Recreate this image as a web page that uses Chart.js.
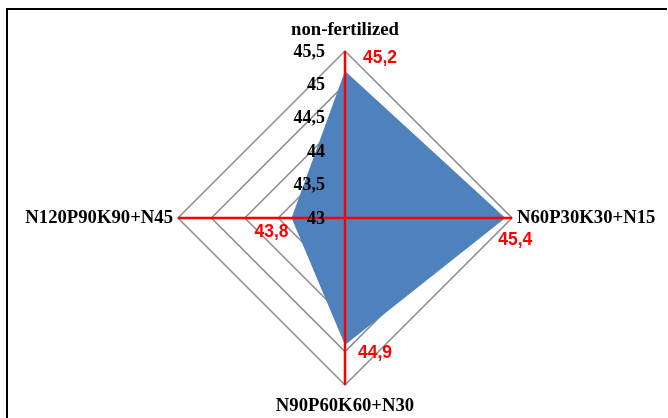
<!DOCTYPE html>
<html>
<head>
<meta charset="utf-8">
<script src="https://cdn.jsdelivr.net/npm/chart.js@4/dist/chart.umd.min.js"></script>
<style>
  html, body { margin: 0; padding: 0; background: #fff; overflow: hidden; }
  #wrap { position: relative; width: 668px; height: 418px; }
  #frame { position: absolute; left: 6px; top: 8px; width: 661px; height: 420px;
           border-top: 2px solid #000; border-left: 2px solid #000; box-sizing: border-box; }
  canvas { position: absolute; left: 0; top: 0; }
</style>
</head>
<body>
<div id="wrap">
  <div id="frame"></div>
  <canvas id="c" width="668" height="418"></canvas>
</div>
<script>
// Treatments (clockwise from the top) and their values
const categories = ['non-fertilized', 'N60P30K30+N15', 'N90P60K60+N30', 'N120P90K90+N45'];
const values = [45.2, 45.4, 44.9, 43.8];

// Radial axis
const tickValues = [43, 43.5, 44, 44.5, 45, 45.5];
const tickLabels = ['43', '43,5', '44', '44,5', '45', '45,5'];

// Offsets of the red value labels from their points (x, y)
const valueLabelOffsets = [[35, -13], [10, 22], [30, 8], [-20, 14]];

const tickFont = 'bold 18px "Liberation Serif", "Times New Roman", serif';
const categoryFont = 'bold 18.7px "Liberation Serif", "Times New Roman", serif';
const valueFont = 'bold 17.5px "Liberation Sans", Arial, sans-serif';

const overlay = {
  id: 'overlay',
  afterDatasetsDraw(chart) {
    const ctx = chart.ctx;
    const r = chart.scales.r;
    const n = categories.length;
    ctx.save();

    // red spokes drawn over the filled area
    ctx.strokeStyle = '#ff0000';
    ctx.lineWidth = 2.5;
    for (let i = 0; i < n; i++) {
      const p = r.getPointPosition(i, r.drawingArea);
      ctx.beginPath();
      ctx.moveTo(r.xCenter, r.yCenter);
      ctx.lineTo(p.x, p.y);
      ctx.stroke();
    }

    // scale values left of the vertical spoke
    ctx.fillStyle = '#000';
    ctx.font = tickFont;
    ctx.textAlign = 'right';
    ctx.textBaseline = 'middle';
    tickValues.forEach((v, k) => {
      const d = r.getDistanceFromCenterForValue(v);
      ctx.fillText(tickLabels[k], r.xCenter - 20, r.yCenter - d + 1);
    });

    // category names around the outside
    ctx.font = categoryFont;
    for (let i = 0; i < n; i++) {
      const p = r.getPointPosition(i, r.drawingArea);
      const c = Math.cos(p.angle), s = Math.sin(p.angle);
      let x = p.x, y = p.y;
      if (Math.abs(c) > 0.5) {
        ctx.textAlign = c > 0 ? 'left' : 'right';
        x += c > 0 ? 5 : -5;
      } else {
        ctx.textAlign = 'center';
        y += s > 0 ? 21 : -21;
      }
      ctx.fillText(categories[i], x, y);
    }

    // red value labels
    ctx.fillStyle = '#ff0000';
    ctx.font = valueFont;
    ctx.textAlign = 'center';
    values.forEach((v, i) => {
      const p = r.getPointPosition(i, r.getDistanceFromCenterForValue(v));
      const o = valueLabelOffsets[i];
      ctx.fillText(String(v).replace('.', ','), p.x + o[0], p.y + o[1]);
    });

    ctx.restore();
  }
};

new Chart(document.getElementById('c'), {
  type: 'radar',
  data: {
    labels: categories,
    datasets: [{
      data: values,
      backgroundColor: '#4f81bd',
      borderColor: '#4f81bd',
      borderWidth: 0,
      pointRadius: 0,
      fill: true
    }]
  },
  options: {
    responsive: false,
    animation: false,
    layout: { padding: { left: 178, right: 156, top: 51, bottom: 33 } },
    plugins: { legend: { display: false }, tooltip: { enabled: false } },
    scales: {
      r: {
        min: 43,
        max: 45.5,
        ticks: { stepSize: 0.5, display: false },
        grid: { color: '#8c8c8c', lineWidth: 1.5 },
        angleLines: { display: false },
        pointLabels: { display: false }
      }
    }
  },
  plugins: [overlay]
});
</script>
</body>
</html>
